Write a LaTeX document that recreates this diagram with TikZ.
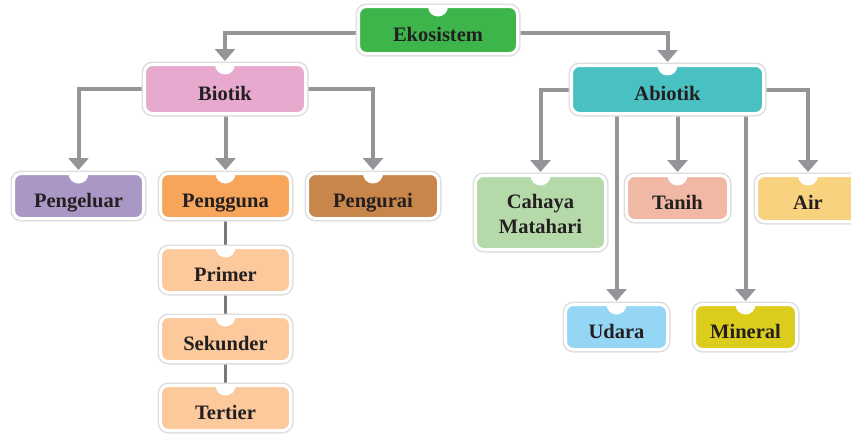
\documentclass[tikz,border=0pt]{standalone}
\usepackage{fontspec}
\setmainfont{Liberation Serif}
\usetikzlibrary{arrows.meta,backgrounds}
\definecolor{txt}{HTML}{231F20}
\definecolor{conn}{HTML}{939598}
\definecolor{conntwo}{HTML}{77787B}
\definecolor{cEko}{HTML}{3DB54A}
\definecolor{cBio}{HTML}{E7A9CD}
\definecolor{cAbi}{HTML}{49C1C3}
\definecolor{cPgl}{HTML}{AB97C6}
\definecolor{cPgg}{HTML}{F6A55B}
\definecolor{cPgu}{HTML}{C9864A}
\definecolor{cCon}{HTML}{FBC99B}
\definecolor{cCah}{HTML}{B6D9A9}
\definecolor{cTan}{HTML}{F1B9A5}
\definecolor{cAir}{HTML}{F8D27F}
\definecolor{cUda}{HTML}{94D6F4}
\definecolor{cMin}{HTML}{DCCD1D}
\tikzset{
  box/.style={fill=#1, draw=white, line width=3pt, rounded corners=8pt,
    inner sep=0pt, outer sep=0pt, text=txt, align=center,
    font=\fontsize{20.5}{25}\selectfont\bfseries,
    text height=22pt, text depth=0pt,
    preaction={draw=black!13, line width=6pt},
    path picture={\fill[white] (path picture bounding box.north) circle (10pt);}},
  arr/.style={draw=conn, line width=4pt, -{Triangle[width=20pt,length=12pt]}, shorten >=3.5pt},
  link/.style={draw=conntwo, line width=2.4pt}
}
\begin{document}
\begin{tikzpicture}[x=1pt,y=-1pt]
\useasboundingbox (0,0) rectangle (851,434);
\node[box=cEko, minimum width=159pt, minimum height=47pt] (eko) at (438,30) {Ekosistem};
\node[box=cBio, minimum width=161pt, minimum height=49pt] (bio) at (225,89) {Biotik};
\node[box=cAbi, minimum width=192pt, minimum height=48pt] (abi) at (667.5,89.5) {Abiotik};
\node[box=cPgl, minimum width=130pt, minimum height=45pt] (pgl) at (78.5,196) {Pengeluar};
\node[box=cPgg, minimum width=130pt, minimum height=45pt] (pgg) at (225.5,196) {Pengguna};
\node[box=cPgu, minimum width=131pt, minimum height=45pt] (pgu) at (373,196) {Pengurai};
\node[box=cCon, minimum width=130pt, minimum height=45pt] (pri) at (225.5,270) {Primer};
\node[box=cCon, minimum width=130pt, minimum height=45pt] (sek) at (225.5,339) {Sekunder};
\node[box=cCon, minimum width=130pt, minimum height=45pt] (ter) at (225.5,408) {Tertier};
\node[box=cCah, minimum width=130pt, minimum height=74pt, text height=41pt] (cah) at (540.5,212.5) {Cahaya\\Matahari};
\node[box=cTan, minimum width=102pt, minimum height=45pt] (tan) at (677.5,198) {Tanih};
\node[box=cAir, minimum width=103pt, minimum height=46pt] (air) at (808,198.5) {Air};
\node[box=cUda, minimum width=102pt, minimum height=45pt] (uda) at (616.5,327) {Udara};
\node[box=cMin, minimum width=102pt, minimum height=45pt] (min) at (745.5,327) {Mineral};
\begin{scope}[on background layer]
\draw[arr] ([yshift=-3pt]eko.west) -| (bio.north);
\draw[arr] ([yshift=-3pt]eko.east) -| (abi.north);
\draw[arr] (bio.west) -| (pgl.north);
\draw[arr] (bio.south -| pgg.north) -- (pgg.north);
\draw[arr] (bio.east) -| (pgu.north);
\draw[arr] (abi.west) -| (cah.north);
\draw[arr] (abi.south -| uda.north) -- (uda.north);
\draw[arr] (abi.south -| tan.north) -- (tan.north);
\draw[arr] (abi.south -| min.north) -- (min.north);
\draw[arr] (abi.east) -| (air.north);
\draw[link] (pgg.south) -- (pri.north);
\draw[link] (pri.south) -- (sek.north);
\draw[link] (sek.south) -- (ter.north);
\end{scope}
\end{tikzpicture}
\end{document}
